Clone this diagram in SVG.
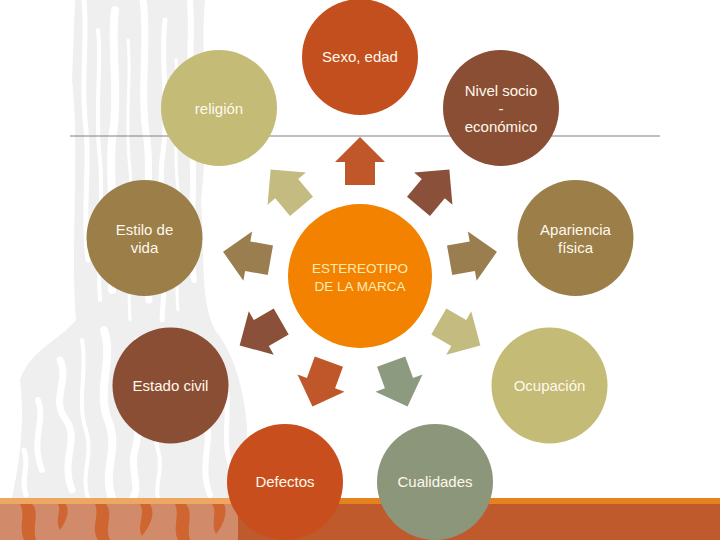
<svg xmlns="http://www.w3.org/2000/svg" width="720" height="540" viewBox="0 0 720 540">
<style>
.lbl{font-family:"Liberation Sans",Arial,sans-serif;font-size:15px;fill:#FFF9EC;text-anchor:middle}
.ctr{font-family:"Liberation Sans",Arial,sans-serif;font-size:13.5px;fill:#FDEBB5;text-anchor:middle}
.streak{fill:none;stroke:#FFFFFF;stroke-linecap:round}
</style>
<defs>
<path id="arw" d="M0,-139 L25,-114 L15,-114 L15,-91 L-15,-91 L-15,-114 L-25,-114 Z"/>
</defs>
<rect width="720" height="540" fill="#FFFFFF"/>
<g id="texture">
<path d="M75,0 L205,0 C200,60 210,120 201,200 C205,260 200,300 215,330 C240,360 252,420 246,470 L250,498 L12,498 C20,460 25,420 20,380 C30,350 60,340 76,320 C70,250 80,150 72,80 Z" fill="#EFEFEF"/>
<path class="streak" stroke-width="5" d="M84,0 C88,40 80,80 86,130 C90,170 82,210 88,260"/>
<path class="streak" stroke-width="4" d="M98,30 C102,70 94,110 100,160 C104,200 96,240 100,300"/>
<path class="streak" stroke-width="8" d="M115,10 C110,50 120,90 112,140 C108,190 118,230 112,290"/>
<path class="streak" stroke-width="3" d="M128,40 C132,80 124,120 130,170 C134,220 126,260 130,320"/>
<path class="streak" stroke-width="7" d="M143,0 C149,40 139,90 147,140 C153,190 141,240 149,300"/>
<path class="streak" stroke-width="5" d="M165,20 C160,60 170,110 162,160 C158,200 168,250 162,320"/>
<path class="streak" stroke-width="3" d="M176,60 C180,100 172,140 178,190 C182,230 174,270 178,310"/>
<path class="streak" stroke-width="6" d="M190,0 C194,50 184,100 192,150 C196,190 188,230 194,280"/>
<path class="streak" stroke-width="7" d="M60,360 C70,380 50,400 66,420 C80,440 60,460 72,490"/>
<path class="streak" stroke-width="4" d="M82,340 C88,370 76,400 86,430 C94,455 80,475 88,498"/>
<path class="streak" stroke-width="8" d="M104,330 C114,360 96,390 108,420 C120,450 102,470 112,498"/>
<path class="streak" stroke-width="6" d="M38,400 C46,420 30,440 42,470"/>
<path class="streak" stroke-width="7" d="M138,340 C131,380 145,410 135,450 C129,470 141,485 133,498"/>
<path class="streak" stroke-width="4" d="M155,360 C162,390 150,420 158,450 C164,470 154,485 158,498"/>
<path class="streak" stroke-width="6" d="M205,420 C214,440 198,465 210,495"/>
<path class="streak" stroke-width="5" d="M225,380 C232,410 220,440 232,470"/>
<path class="streak" stroke-width="5" d="M24,450 C30,465 20,480 26,495"/>
</g>
<g id="band">
<rect x="0" y="498" width="720" height="6" fill="#E5821E"/>
<rect x="0" y="504" width="720" height="36" fill="#BE5A2C"/>
<rect x="0" y="498" width="238" height="42" fill="#FFFFFF" opacity="0.3"/>
<g fill="#CF6631">
<path d="M20,504 C26,515 18,525 24,540 L36,540 C32,525 40,512 32,504 Z"/>
<path d="M58,504 C62,512 54,520 60,530 C66,522 70,512 66,504 Z"/>
<path d="M95,504 C100,516 90,528 98,540 L110,540 C104,526 114,514 106,504 Z"/>
<path d="M140,504 C146,514 136,526 142,536 C150,526 156,514 150,504 Z"/>
<path d="M175,504 C180,516 172,528 178,540 L190,540 C186,526 194,514 186,504 Z"/>
<path d="M212,504 C218,512 210,524 216,534 C224,524 228,512 224,504 Z"/>
</g>
</g>
<line x1="70" y1="136" x2="660" y2="136" stroke="#808080" stroke-width="1"/>
<g id="connectors" transform="translate(360,276)">
<use href="#arw" fill="#C0572B" transform="rotate(0)"/>
<use href="#arw" fill="#8A5039" transform="rotate(40)"/>
<use href="#arw" fill="#9B7E50" transform="rotate(80)"/>
<use href="#arw" fill="#C3BB80" transform="rotate(120)"/>
<use href="#arw" fill="#8C9A80" transform="rotate(160)"/>
<use href="#arw" fill="#C0572B" transform="rotate(200)"/>
<use href="#arw" fill="#8A5039" transform="rotate(240)"/>
<use href="#arw" fill="#9B7E50" transform="rotate(280)"/>
<use href="#arw" fill="#C3BB80" transform="rotate(320)"/>
</g>
<g id="center">
<circle cx="360" cy="276" r="72" fill="#F28200"/>
<text class="ctr" x="360" y="273">ESTEREOTIPO</text>
<text class="ctr" x="360" y="291">DE LA MARCA</text>
</g>
<g id="sexo">
<circle cx="360" cy="57" r="58" fill="#C44F1E"/>
<text class="lbl" x="360" y="62">Sexo, edad</text>
</g>
<g id="nivel">
<circle cx="501" cy="108" r="58" fill="#8A4E35"/>
<text class="lbl" x="501" y="96">Nivel socio</text>
<text class="lbl" x="501" y="114">-</text>
<text class="lbl" x="501" y="132">económico</text>
</g>
<g id="apariencia">
<circle cx="575.5" cy="238" r="58" fill="#9B7E48"/>
<text class="lbl" x="575.5" y="235">Apariencia</text>
<text class="lbl" x="575.5" y="253">física</text>
</g>
<g id="ocupacion">
<circle cx="549.5" cy="385.5" r="58" fill="#C3BB76"/>
<text class="lbl" x="549.5" y="391">Ocupación</text>
</g>
<g id="cualidades">
<circle cx="435" cy="482" r="58" fill="#8C967A"/>
<text class="lbl" x="435" y="487">Cualidades</text>
</g>
<g id="defectos">
<circle cx="285" cy="482" r="58" fill="#C84F1D"/>
<text class="lbl" x="285" y="487">Defectos</text>
</g>
<g id="estado">
<circle cx="170.5" cy="385.5" r="58" fill="#8A4E35"/>
<text class="lbl" x="170.5" y="391">Estado civil</text>
</g>
<g id="estilo">
<circle cx="144.5" cy="238" r="58" fill="#9B7E48"/>
<text class="lbl" x="144.5" y="235">Estilo de</text>
<text class="lbl" x="144.5" y="253">vida</text>
</g>
<g id="religion">
<circle cx="219" cy="108" r="58" fill="#C3BB76"/>
<text class="lbl" x="219" y="114">religión</text>
</g>
</svg>
